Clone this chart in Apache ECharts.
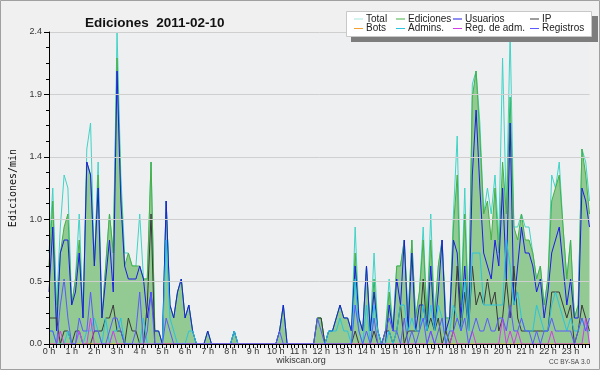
<!DOCTYPE html>
<html><head><meta charset="utf-8">
<script src="https://cdn.jsdelivr.net/npm/echarts@6/dist/echarts.min.js"></script>
<style>html,body{margin:0;padding:0;background:#f0f0f0}#c{width:600px;height:370px}</style>
</head><body><div id="c"></div>
<script>
// Tick labels (one per hour) and 10-minute slots
const hourLabels = ['0 h','1 h','2 h','3 h','4 h','5 h','6 h','7 h','8 h','9 h','10 h','11 h',
  '12 h','13 h','14 h','15 h','16 h','17 h','18 h','19 h','20 h','21 h','22 h','23 h'];
const slotMinutes = ['00','10','20','30','40','50'];

// Edits per minute, one value per 10-minute slot (6 per hour)
const total = [
  0.7,1.2,0.3,0.9,1.3,1.2, 0.3,0.5,1.0,0.2,1.5,1.7, 0.6,1.4,0.2,0.6,1.0,0.7, 2.4,1.3,0.7,0.7,0.6,0.6,
  1.0,0.5,0.5,1.4,0.1,0.1, 0.0,1.1,0.3,0.2,0.4,0.5, 0.2,0.3,0.1,0,0,0, 0.1,0,0,0,0,0,
  0,0.1,0,0,0,0, 0,0,0,0,0,0, 0,0.1,0.3,0,0,0, 0,0,0,0,0,0.2,
  0.2,0,0.1,0.1,0.2,0.3, 0.2,0.2,0.1,0.9,0.2,0.1, 0.6,0.1,0.7,0.1,0,0.1, 0.5,0.1,0.6,0.6,0.8,0.2,
  0.8,0.2,0.4,0.9,0.2,1.0, 0.2,0.6,0.8,0.2,0.2,1.0, 1.6,0.3,1.2,0.2,2.0,2.1, 1.7,1.0,1.2,1.0,1.3,0.8,
  2.2,1.0,2.4,0.9,0.9,1.0, 0.9,0.9,0.7,0.5,0.6,0.3, 0.5,1.3,1.2,1.4,0.9,0.5, 0.8,0.2,0.3,1.5,1.4,1.1];
const ediciones = [
  0.6,1.1,0.2,0.7,0.9,1.0, 0.3,0.5,0.8,0.2,1.4,1.3, 0.6,1.3,0.2,0.6,1.0,0.7, 2.2,1.2,0.6,0.7,0.6,0.6,
  0.6,0.5,0.5,1.4,0.1,0.1, 0.0,1.1,0.3,0.2,0.4,0.5, 0.2,0.3,0.1,0,0,0, 0.1,0,0,0,0,0,
  0,0.1,0,0,0,0, 0,0,0,0,0,0, 0,0.1,0.3,0,0,0, 0,0,0,0,0,0.2,
  0.2,0,0.1,0.1,0.2,0.3, 0.2,0.2,0.1,0.7,0.2,0.1, 0.6,0.1,0.5,0.1,0,0.1, 0.4,0.1,0.6,0.6,0.8,0.2,
  0.8,0.2,0.4,0.8,0.2,0.8, 0.2,0.6,0.8,0.2,0.2,0.9, 1.3,0.3,1.0,0.2,1.9,2.1, 1.6,1.0,1.1,0.8,1.2,0.7,
  1.4,1.0,1.9,0.9,0.8,1.0, 0.8,0.8,0.7,0.5,0.6,0.3, 0.5,1.1,1.2,1.3,0.9,0.5, 0.8,0.2,0.3,1.5,1.3,1.0];
const usuarios = [
  0.4,0.9,0.1,0.7,0.8,0.8, 0.3,0.4,0.7,0.2,1.4,1.3, 0.6,1.2,0.2,0.5,0.8,0.4, 2.1,1.1,0.6,0.5,0.5,0.5,
  0.6,0.5,0.2,0.4,0.1,0.1, 0.0,1.1,0.3,0.2,0.4,0.5, 0.2,0.3,0.1,0,0,0, 0.1,0,0,0,0,0,
  0,0.1,0,0,0,0, 0,0,0,0,0,0, 0,0.1,0.3,0,0,0, 0,0,0,0,0,0,
  0,0,0.1,0.1,0.2,0.3, 0.2,0.2,0.1,0.6,0.2,0.1, 0.6,0.1,0.4,0.1,0,0, 0.3,0.1,0.5,0.3,0.8,0.1,
  0.7,0.1,0.3,0.3,0.1,0.6, 0.1,0.4,0.8,0.1,0.2,0.8, 0.7,0.2,0.6,0.1,1.3,1.8, 1.2,0.7,0.6,0.5,0.8,0.6,
  1.2,0.5,1.7,0.3,0.6,0.9, 0.7,0.7,0.6,0.4,0.5,0.2, 0.4,0.7,0.8,0.9,0.6,0.3, 0.5,0.2,0.2,1.2,1.1,0.9];
const ip = [
  0.2,0.2,0.2,0,0.1,0.1, 0,0.1,0.1,0,0,0, 0.1,0.1,0.1,0.2,0.2,0.3, 0.1,0.1,0,0.2,0.1,0.1,
  0,0,0.3,1.0,0,0, 0,0,0,0,0,0, 0,0,0,0,0,0, 0,0,0,0,0,0,
  0,0,0,0,0,0, 0,0,0,0,0,0, 0,0,0,0,0,0, 0,0,0,0,0,0.2,
  0.2,0,0,0,0,0, 0,0,0,0.1,0,0, 0,0,0.1,0,0,0.1, 0.1,0,0.1,0.3,0,0.1,
  0.1,0.1,0.1,0.5,0.1,0.2, 0.1,0.2,0,0.1,0,0.1, 0.6,0.1,0.4,0.1,0.6,0.3, 0.4,0.3,0.5,0.3,0.4,0.1,
  0.2,0.5,0.2,0.6,0.2,0.1, 0.1,0.1,0.1,0.1,0.1,0.1, 0.1,0.4,0.4,0.4,0.3,0.2, 0.3,0,0.1,0.3,0.2,0.1];
const bots = [
  0,0,0,0,0,0, 0,0,0,0,0,0, 0,0,0,0,0,0, 0,0,0,0,0,0,
  0,0,0,0,0,0, 0,0,0,0,0,0, 0,0,0,0,0,0, 0,0,0,0,0,0,
  0,0,0,0,0,0, 0,0,0,0,0,0, 0,0,0,0,0,0, 0,0,0,0,0,0,
  0,0,0,0,0,0, 0,0,0,0,0,0, 0,0,0,0,0,0, 0,0,0,0,0,0,
  0,0,0,0,0,0, 0,0,0,0,0,0, 0,0,0,0,0,0, 0,0,0,0,0,0,
  0,0,0,0,0,0, 0,0,0,0,0,0, 0,0,0,0,0,0, 0,0,0,0,0,0];
const admins = [
  0.1,0.1,0,0,0,0.1, 0,0,0.1,0,0.1,0.1, 0.2,0.1,0,0.2,0,0.1, 0.1,0.2,0,0,0,0,
  0,0.2,0,0,0,0, 0,0.8,0.2,0.1,0,0, 0,0.1,0.1,0,0,0, 0,0,0,0,0,0,
  0,0.1,0,0,0,0, 0,0,0,0,0,0, 0,0,0,0,0,0, 0,0,0,0,0,0,
  0,0,0.1,0.1,0.1,0.2, 0.1,0.1,0,0.5,0.1,0, 0.3,0,0.3,0.1,0,0, 0.1,0,0.1,0.3,0.3,0.1,
  0.2,0.1,0.1,0.3,0.1,0.3, 0.1,0.3,0.2,0,0.1,0.3, 0.2,0.1,0.5,0.1,0.7,0.7, 0.7,0.3,0.3,0.3,0.3,0.3,
  0.3,0.8,0.6,0.3,0.4,0.2, 0.1,0.1,0.1,0.3,0.2,0.1, 0.1,0.3,0.4,0.3,0.2,0.1, 0.2,0.1,0.1,0.2,0.1,0.1];
const regAdm = [
  0,0,0,0.1,0,0, 0,0,0.1,0,0,0.2, 0,0,0,0,0,0.1, 0,0,0,0,0,0,
  0,0,0,0,0,0, 0,0,0,0,0,0, 0,0,0,0,0,0, 0,0,0,0,0,0,
  0,0,0,0,0,0, 0,0,0,0,0,0, 0,0,0,0,0,0, 0,0,0,0,0,0,
  0,0,0,0,0,0, 0,0,0,0,0,0, 0,0,0,0,0,0, 0,0,0,0,0,0,
  0,0,0,0,0,0.1, 0,0,0,0,0,0.1, 0,0,0,0,0.1,0, 0,0,0,0,0,0,
  0.2,0,0.1,0,0.1,0, 0,0,0,0,0,0, 0,0.1,0,0,0,0, 0,0,0,0,0.2,0];
const registros = [
  0.1,0.1,0,0.3,0.5,0.2, 0,0,0.2,0.1,0.1,0.4, 0.1,0.1,0,0,0.1,0.2, 0.2,0.1,0,0,0,0.1,
  0.4,0,0.1,0.4,0,0, 0,0.2,0.1,0,0,0, 0,0,0,0,0,0, 0,0,0,0,0,0,
  0,0,0,0,0,0, 0,0,0,0,0,0, 0,0.1,0,0,0,0, 0,0,0,0,0,0.2,
  0.1,0,0,0,0,0, 0,0,0,0.3,0.1,0, 0.1,0,0.2,0,0,0.1, 0.2,0.1,0.1,0,0.2,0,
  0.1,0,0.1,0.2,0,0.1, 0,0.1,0.2,0,0.1,0.1, 0.2,0.1,0.2,0,0.1,0.2, 0.1,0.1,0.2,0.1,0.1,0.2,
  0.2,0.1,0.3,0.1,0.1,0.2, 0.1,0.1,0,0.1,0,0.1, 0.1,0.2,0.1,0.1,0.1,0.1, 0.1,0,0.1,0.2,0.1,0.2];

const seriesNames = ['Total','Ediciones','Usuarios','IP','Bots','Admins.','Reg. de adm.','Registros'];
const seriesColors = ['#3fd3c6','#45b045','#1c1ce6','#3a3a3a','#f4a030','#28c4e0','#d23ee6','#5a5aff'];
const seriesData = [total, ediciones, usuarios, ip, bots, admins, regAdm, registros];
const legendRows = [['Total','Ediciones','Usuarios','IP'],['Bots','Admins.','Reg. de adm.','Registros']];
const legendColX = [354, 396, 453, 530];
const legendRowY = [14, 23.5];

const categories = [];
hourLabels.forEach(function(h){ slotMinutes.forEach(function(m, k){
  categories.push(k === 0 ? h : h.replace(' h','') + ':' + m);
});});

const FONT = 'Liberation Sans, Arial, sans-serif';

const series = seriesNames.map(function(name, i){
  const s = {
    name: name, type: 'line', data: seriesData[i], showSymbol: false, symbol: 'none',
    color: seriesColors[i], lineStyle: {width: 1, color: seriesColors[i]},
    emphasis: {disabled: true}, animation: false, z: 2 + i * 0.01
  };
  if (name === 'Ediciones') s.areaStyle = {color: '#93c993', opacity: 1};
  return s;
});

const legends = [];
legendRows.forEach(function(row, r){
  row.forEach(function(name, c){
    legends.push({
      data: [name === 'Total' ? {name: name, itemStyle: {color: '#a6e6e0'}} : name],
      left: legendColX[c], top: legendRowY[r], padding: 0, itemGap: 0,
      icon: 'rect', itemWidth: 9, itemHeight: 1, selectedMode: false, z: 12,
      textStyle: {fontFamily: FONT, fontSize: 10, color: '#222', padding: [0,0,0,-2]}
    });
  });
});

const chart = echarts.init(document.getElementById('c'), null, {renderer: 'canvas'});
chart.setOption({
  animation: false,
  backgroundColor: '#f0f0f0',
  title: {text: 'Ediciones  2011-02-10', left: 80, top: 11,
    textStyle: {fontFamily: FONT, fontSize: 13.5, fontWeight: 'bold', color: '#111'}},
  legend: legends,
  grid: {left: 46.5, right: 10.5, top: 32, bottom: 26, show: true, backgroundColor: '#eeeff1', borderWidth: 0},
  xAxis: {
    type: 'category', data: categories, boundaryGap: false, z: 5,
    axisLine: {lineStyle: {color: '#000', width: 1}},
    axisTick: {interval: 0, length: 4, lineStyle: {color: '#000'}},
    axisLabel: {interval: 5, margin: 3, fontFamily: FONT, fontSize: 9, color: '#333'},
    splitLine: {show: false}
  },
  yAxis: {
    type: 'value', min: 0, max: 2.4, interval: 0.48, z: 5,
    name: 'Ediciones/min', nameLocation: 'middle', nameGap: 31, nameRotate: 90,
    nameTextStyle: {fontFamily: 'DejaVu Sans Mono, monospace', fontSize: 10, color: '#111'},
    axisLine: {show: true, lineStyle: {color: '#000', width: 1}},
    axisTick: {show: true, length: 5, lineStyle: {color: '#000'}},
    minorTick: {show: true, splitNumber: 4, length: 3, lineStyle: {color: '#000'}},
    axisLabel: {margin: 7, fontFamily: FONT, fontSize: 9, color: '#333',
      formatter: function(v){ return v.toFixed(1); }},
    splitLine: {lineStyle: {color: '#cfcfcf', width: 1}}
  },
  graphic: [
    {type: 'rect', shape: {x: 0.5, y: 0.5, width: 599, height: 369}, style: {fill: null, stroke: '#a0a0a0', lineWidth: 1}, z: 20, silent: true},
    {type: 'rect', shape: {x: 351, y: 16, width: 247, height: 26}, style: {fill: '#7d7d7d'}, z: 10, silent: true},
    {type: 'rect', shape: {x: 346.5, y: 11.5, width: 245, height: 25}, style: {fill: '#ffffff', stroke: '#c8c8c8', lineWidth: 1}, z: 10, silent: true},
    {type: 'text', x: 301, y: 361, style: {text: 'wikiscan.org', fontFamily: FONT, fontSize: 9, fill: '#333', align: 'center', verticalAlign: 'middle'}, z: 10, silent: true},
    {type: 'text', x: 590, y: 362, style: {text: 'CC BY-SA 3.0', fontFamily: FONT, fontSize: 6.5, fill: '#444', align: 'right', verticalAlign: 'middle'}, z: 10, silent: true}
  ],
  series: series
});
</script></body></html>
